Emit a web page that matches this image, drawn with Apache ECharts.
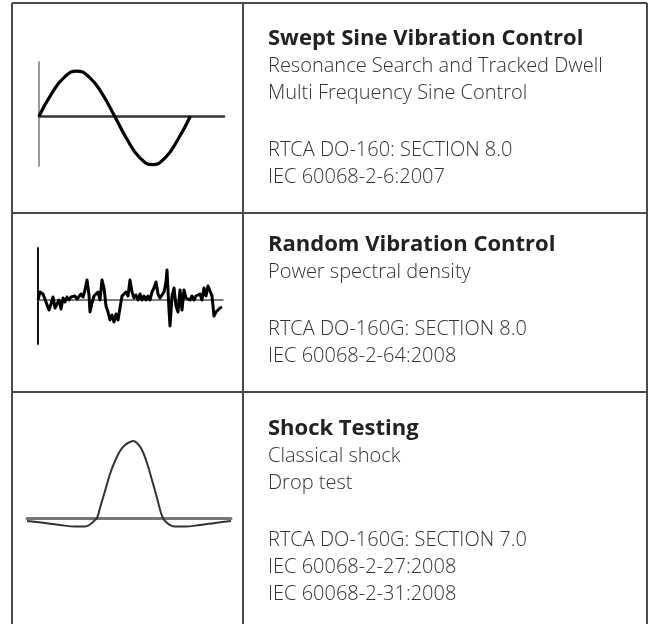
<!doctype html>
<html lang="en">
  <head>
    <meta charset="UTF-8" />
    <title>Vibration Control Overview</title>
    <script src="https://cdn.jsdelivr.net/npm/echarts@6/dist/echarts.min.js"></script>
    <style>
      html, body { margin: 0; padding: 0; background: #fff; }
      #chart { width: 652px; height: 624px; }
    </style>
  </head>
  <body>
    <div id="chart"></div>
    <script>
      // Swept sine: phase in degrees, amplitude
      const sineT = [0, 30, 60, 90, 120, 150, 180, 210, 240, 270, 300, 330, 360];
      const sineV = [0, 0.5, 0.86, 1, 0.86, 0.5, 0, -0.52, -0.92, -1.07, -0.92, -0.52, 0];

      // Random vibration trace: position (px from axis) and level
      const randomT = [0, 2, 5, 8, 11, 13, 15, 17, 19, 21, 23, 25, 27, 29, 31, 33, 35, 37, 39, 41, 43, 45, 47, 49, 50, 51, 52, 54, 56, 58, 60, 62, 64, 66, 68, 70, 72, 74, 76, 78, 80, 82, 84, 86, 88, 90, 92, 94, 96, 98, 100, 102, 104, 106, 108, 110, 112, 114, 116, 118, 120, 122, 124, 126, 128, 129, 130, 131, 132, 133, 134, 136, 138, 140, 142, 144, 146, 148, 150, 152, 154, 156, 158, 160, 162, 164, 166, 168, 170, 172, 174, 176, 178, 180, 182, 184];
      const randomV = [0, 8, 6, -2, -10, -4, 3, -8, -10, 0, -9, 2, -2, 3, 0, 3, 1, 4, 1, 2, 6, 3, 10, 20, 22, 5, -12, -3, 4, 2, 8, 0, 20, 12, -6, -12, -20, -15, -22, -14, -20, -8, 4, 2, 8, 4, 20, 8, 2, 5, 0, 6, 0, 4, 0, 4, 0, 8, 12, 18, 6, 2, 0, 8, 18, 30, 10, -10, -26, -12, 4, 12, -6, -12, 10, -10, 10, 2, 4, 0, 4, 0, 4, 2, 6, 0, 12, 4, 14, 12, 4, -16, -12, -10, -8, -7];

      // Shock pulse: position (px) and level
      const shockT = [0, 18, 33, 48, 58, 63, 68, 70, 73, 78, 83, 88, 93, 98, 103, 106, 110, 115, 120, 125, 130, 134, 136, 139, 143, 148, 158, 173, 188, 204];
      const shockV = [-3, -5, -7, -8.5, -8.5, -6.5, -2, 0, 10, 27, 44, 57, 67, 73, 76, 77, 75, 68, 55, 38, 20, 5, 0, -4, -7, -8.5, -8.5, -7, -5, -3];

      const titles = ['Swept Sine Vibration Control', 'Random Vibration Control', 'Shock Testing'];
      const details = [
        ['Resonance Search and Tracked Dwell', 'Multi Frequency Sine Control', '', 'RTCA DO-160: SECTION 8.0', 'IEC 60068-2-6:2007'],
        ['Power spectral density', '', 'RTCA DO-160G: SECTION 8.0', 'IEC 60068-2-64:2008'],
        ['Classical shock', 'Drop test', '', 'RTCA DO-160G: SECTION 7.0', 'IEC 60068-2-27:2008', 'IEC 60068-2-31:2008']
      ];

      const FONT = '"Open Sans", Lato, sans-serif';
      const pairs = (t, v) => t.map((x, i) => [x, v[i]]);

      // table frame
      const frame = [
        [[12, 3], [647, 3]],
        [[12, 213], [647, 213]],
        [[12, 392], [647, 392]],
        [[12, 3], [12, 624]],
        [[243, 3], [243, 624]],
        [[647, 3], [647, 624]]
      ].map((p) => ({
        type: 'line',
        shape: { x1: p[0][0], y1: p[0][1], x2: p[1][0], y2: p[1][1] },
        style: { stroke: '#4a4a4a', lineWidth: 2 }
      }));

      // text blocks: baseline of the title in each row
      const titleBase = [45, 251, 435];
      const lineGap = 27;
      const titleSize = 22;
      const bodySize = 20;
      const texts = [];
      titles.forEach((t, r) => {
        texts.push({
          type: 'text', x: 268, y: titleBase[r] - 0.3 * titleSize, silent: true,
          style: { text: t, font: 'bold ' + titleSize + 'px ' + FONT, fill: '#222', verticalAlign: 'middle' }
        });
        let base = titleBase[r];
        details[r].forEach((d) => {
          base += d ? lineGap : lineGap + 3;
          if (!d) return;
          texts.push({
            type: 'text', x: 268, y: base - 0.3 * bodySize, silent: true,
            style: { text: d, font: '300 ' + bodySize + 'px ' + FONT, fill: '#333', verticalAlign: 'middle' }
          });
        });
      });

      const chart = echarts.init(document.getElementById('chart'));
      const hidden = { axisTick: { show: false }, axisLabel: { show: false }, splitLine: { show: false } };

      chart.setOption({
        animation: false,
        grid: [
          { left: 39, top: 62, width: 185, height: 104 },
          { left: 38, top: 248, width: 185, height: 96 },
          { left: 27, top: 430, width: 204, height: 100 }
        ],
        xAxis: [
          { type: 'value', gridIndex: 0, min: 0, max: 440, ...hidden,
            axisLine: { onZero: true, lineStyle: { color: '#333', width: 2.5 } } },
          { type: 'value', gridIndex: 1, min: 0, max: 185, ...hidden,
            axisLine: { onZero: true, lineStyle: { color: '#555', width: 1.5 } } },
          { type: 'value', gridIndex: 2, min: 0, max: 204, ...hidden,
            axisLine: { onZero: true, lineStyle: { color: '#777', width: 3 } } }
        ],
        yAxis: [
          { type: 'value', gridIndex: 0, min: -1.1, max: 1.2, ...hidden,
            axisLine: { show: true, lineStyle: { color: '#777', width: 1.5 } } },
          { type: 'value', gridIndex: 1, min: -44, max: 52, ...hidden,
            axisLine: { show: true, lineStyle: { color: '#111', width: 2 } } },
          { type: 'value', gridIndex: 2, min: -12, max: 88, ...hidden,
            axisLine: { show: false } }
        ],
        series: [
          { type: 'line', xAxisIndex: 0, yAxisIndex: 0, data: pairs(sineT, sineV), smooth: true,
            showSymbol: false, lineStyle: { color: '#000', width: 3.2 } },
          { type: 'line', xAxisIndex: 1, yAxisIndex: 1, data: pairs(randomT, randomV),
            showSymbol: false, lineStyle: { color: '#000', width: 3, join: 'round' } },
          { type: 'line', xAxisIndex: 2, yAxisIndex: 2, data: pairs(shockT, shockV), smooth: 0.4,
            showSymbol: false, lineStyle: { color: '#333', width: 2 } }
        ],
        graphic: frame.concat(texts)
      });
    </script>
  </body>
</html>
